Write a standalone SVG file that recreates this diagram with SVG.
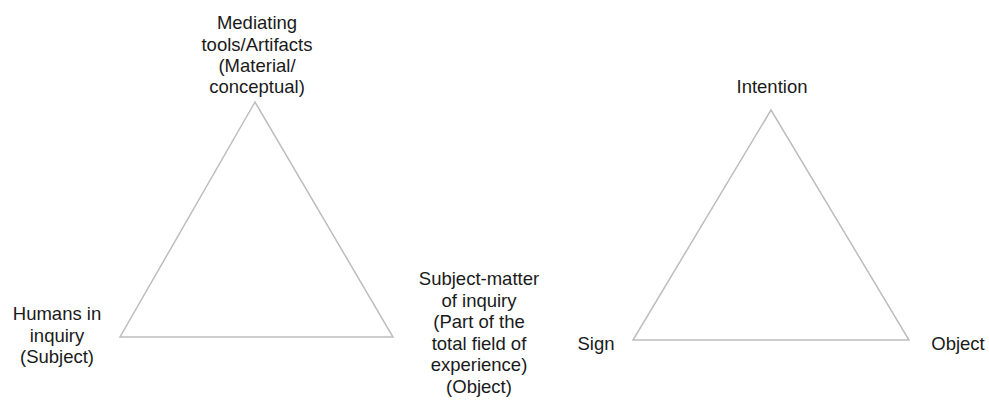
<svg xmlns="http://www.w3.org/2000/svg" width="989" height="403" viewBox="0 0 989 403">
<style>
.t{font-family:"Liberation Sans",Arial,sans-serif;font-size:18.5px;fill:#1a1a1a;text-anchor:middle}
.tri{fill:none;stroke:#bdbdbd;stroke-width:1.5;stroke-linejoin:miter}
</style>
<rect width="989" height="403" fill="#ffffff"/>
<g id="connectors">
<polygon class="tri" points="255,102 120,337 393,337"/>
<polygon class="tri" points="771,110 633,340 909,340"/>
</g>
<g id="node-mediating">
<text class="t" x="257" y="29">Mediating</text>
<text class="t" x="257" y="50.5">tools/Artifacts</text>
<text class="t" x="257" y="72">(Material/</text>
<text class="t" x="257" y="93">conceptual)</text>
</g>
<g id="node-humans">
<text class="t" x="57" y="320">Humans in</text>
<text class="t" x="57" y="341.5">inquiry</text>
<text class="t" x="57" y="363">(Subject)</text>
</g>
<g id="node-subjectmatter">
<text class="t" x="479" y="285">Subject-matter</text>
<text class="t" x="479" y="306.5">of inquiry</text>
<text class="t" x="479" y="328">(Part of the</text>
<text class="t" x="479" y="349.5">total field of</text>
<text class="t" x="479" y="371">experience)</text>
<text class="t" x="479" y="392.5">(Object)</text>
</g>
<g id="node-intention">
<text class="t" x="772" y="93">Intention</text>
</g>
<g id="node-sign">
<text class="t" x="596" y="350">Sign</text>
</g>
<g id="node-object">
<text class="t" x="958" y="350">Object</text>
</g>
</svg>
